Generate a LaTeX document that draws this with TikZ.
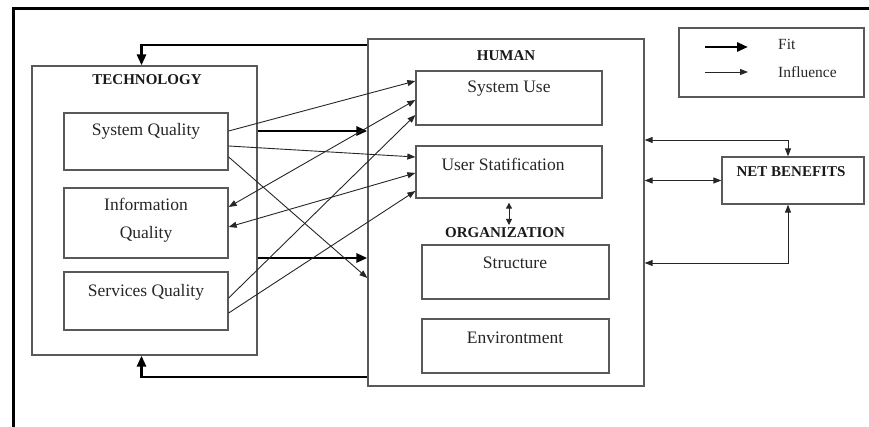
\documentclass[tikz,border=0pt]{standalone}
\usepackage{fontspec}
\setmainfont{Liberation Serif}
\usetikzlibrary{arrows.meta,calc}
\begin{document}
\begin{tikzpicture}[x=1pt,y=-1pt,
  box/.style={draw=black!65,line width=1.3pt,inner sep=0pt,rectangle},
  txt/.style={inner sep=0pt,font=\fontsize{17.5}{28}\selectfont,text=black!85},
  head/.style={inner sep=0pt,font=\fontsize{15}{18}\selectfont\bfseries,text=black!90},
  thinarrow/.style={draw=black!85,line width=0.9pt,-{Triangle[length=8pt,width=6pt]}},
  botharrow/.style={draw=black!85,line width=0.9pt,{Triangle[length=8pt,width=6pt]}-{Triangle[length=8pt,width=6pt]}},
  fitarrow/.style={draw=black,line width=2.8pt,-{Triangle[length=11pt,width=9pt]}},
  frame/.style={draw=black,line width=3pt}]
\useasboundingbox (0,0) rectangle (869,427);
% outer frame (top and left edges)
\coordinate (fA) at (13,427);
\coordinate (fB) at (13,9);
\coordinate (fC) at (869,9);
\draw[frame] (fA) -- (fB) -- (fC);
% boxes
\node[box,minimum width=225pt,minimum height=289pt] (tech) at (144.5,210.5) {};
\node[box,minimum width=164pt,minimum height=57pt] (sq) at (146,141.5) {};
\node[box,minimum width=164pt,minimum height=70pt] (iq) at (146,223) {};
\node[box,minimum width=164pt,minimum height=58pt] (svq) at (146,301) {};
\node[box,minimum width=276pt,minimum height=347pt] (human) at (506,212.5) {};
\node[box,minimum width=186pt,minimum height=54pt] (su) at (509,98) {};
\node[box,minimum width=186pt,minimum height=52pt] (us) at (509,172) {};
\node[box,minimum width=187pt,minimum height=54pt] (st) at (515.5,272) {};
\node[box,minimum width=187pt,minimum height=54pt] (env) at (515.5,346) {};
\node[box,minimum width=185pt,minimum height=69pt] (leg) at (771.5,62.5) {};
\node[box,minimum width=142pt,minimum height=47pt] (net) at (793,180.5) {};
% labels
\node[head] (techlbl) at (147,80) {TECHNOLOGY};
\node[txt] (sqlbl) at (146,131) {System Quality};
\node[txt,align=center] (iqlbl) at (146,220) {Information\\Quality};
\node[txt] (svqlbl) at (146,292) {Services Quality};
\node[head] (humlbl) at (506,56) {HUMAN};
\node[txt] (sulbl) at (509,89) {System Use};
\node[txt] (uslbl) at (503,164) {User Statification};
\node[head] (orglbl) at (505,233) {ORGANIZATION};
\node[txt] (stlbl) at (515,263) {Structure};
\node[txt] (envlbl) at (515,338) {Environtment};
\node[head] (netlbl) at (791,172) {NET BENEFITS};
\node[txt,anchor=west,font=\fontsize{15.5}{18}\selectfont] (fitlbl) at (778,44) {Fit};
\node[txt,anchor=west,font=\fontsize{15.5}{18}\selectfont] (inflbl) at (778,72) {Influence};
% legend arrows
\coordinate (fit1) at (705,47);
\coordinate (fit2) at (748,47);
\coordinate (inf1) at (705,72);
\coordinate (inf2) at (748,72);
\draw[fitarrow] (fit1) -- (fit2);
\draw[thinarrow] (inf1) -- (inf2);
% thick fit arrows
\draw[fitarrow] (tech.east |- 0,131) -- (human.west |- 0,131);
\draw[fitarrow] (tech.east |- 0,258) -- (human.west |- 0,258);
\draw[fitarrow] (human.west |- 0,45) -| ([xshift=-3pt]tech.north);
\draw[fitarrow] (human.west |- 0,377) -| ([xshift=-3pt]tech.south);
% thin influence arrows
\draw[thinarrow] (sq.east |- 0,131) -- (su.west |- 0,81);
\draw[thinarrow] (sq.east |- 0,146) -- (us.west |- 0,157);
\draw[thinarrow] (sq.east |- 0,157) -- (human.west |- 0,278);
\draw[botharrow] (iq.east |- 0,207) -- (su.west |- 0,100);
\draw[botharrow] (iq.east |- 0,227) -- (us.west |- 0,173);
\draw[thinarrow] (svq.east |- 0,298) -- (su.west |- 0,115);
\draw[thinarrow] (svq.east |- 0,313) -- (us.west |- 0,191);
% human <-> organization small arrow
\draw[botharrow,{Triangle[length=6pt,width=6pt]}-{Triangle[length=6pt,width=6pt]}] ([yshift=-4pt]us.south) -- (us.south |- 0,225);
% net benefits links
\draw[botharrow] (human.east |- 0,140) -| ([xshift=-5pt]net.north);
\draw[botharrow] (human.east |- net.west) -- (net.west);
\draw[botharrow] ([xshift=-5pt]net.south) |- (human.east |- 0,263);
\end{tikzpicture}
\end{document}
